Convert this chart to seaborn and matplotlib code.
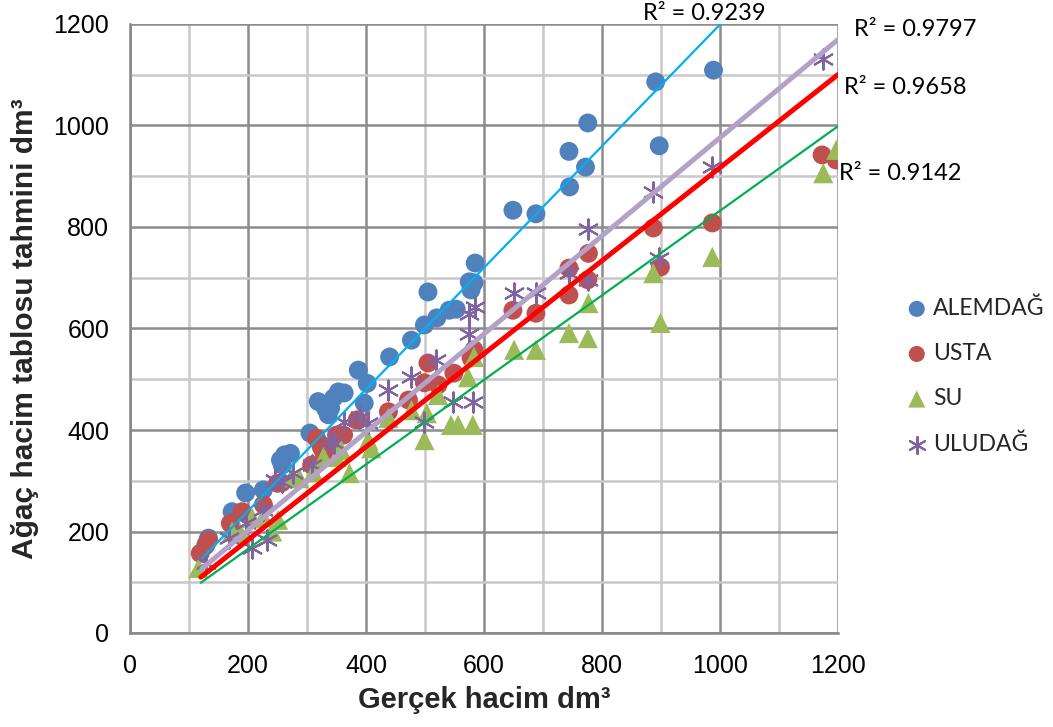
import matplotlib
matplotlib.use("Agg")
import matplotlib.pyplot as plt
import seaborn as sns
import numpy as np
import pandas as pd

# ---------------- data ----------------
alemdag_x = [128, 133, 173, 196, 226, 255, 258, 262, 272, 305, 319, 331, 336, 340, 345, 353, 363,
             387, 397, 402, 440, 477, 499, 505, 520, 541, 553, 575, 578, 583, 585, 649, 688,
             744, 745, 772, 776, 891, 897, 989]
alemdag_y = [172, 187, 239, 276, 282, 341, 331, 351, 354, 394, 456, 443, 430, 443, 463, 475, 473,
             518, 453, 492, 544, 577, 607, 672, 621, 636, 638, 692, 676, 690, 729, 833, 826,
             949, 879, 918, 1005, 1086, 960, 1109]

usta_x = [119, 130, 133, 170, 190, 226, 250, 257, 308, 316, 324, 328, 341, 350, 362, 385, 438,
          472, 499, 505, 522, 549, 578, 583, 649, 688, 744, 744, 777, 776, 887, 899, 987, 1173, 1197]
usta_y = [157, 177, 183, 216, 239, 253, 295, 296, 331, 384, 367, 357, 361, 390, 390, 420, 436,
          459, 493, 532, 489, 512, 542, 558, 636, 630, 719, 666, 748, 696, 798, 721, 808, 942, 932]

su_x = [116, 173, 187, 207, 226, 241, 251, 274, 287, 311, 328, 350, 358, 372, 404, 409, 438, 477,
        499, 503, 522, 544, 556, 573, 581, 583, 651, 688, 744, 776, 777, 887, 899, 987, 1175, 1197]
su_y = [128, 200, 197, 227, 229, 200, 223, 307, 305, 317, 347, 347, 361, 315, 380, 364, 424, 439,
        380, 433, 469, 410, 410, 504, 410, 544, 558, 558, 591, 581, 650, 709, 611, 741, 906, 952]

uludag_x = [128, 167, 196, 207, 226, 232, 246, 257, 277, 308, 338, 346, 363, 389, 404, 438, 477,
            499, 519, 548, 581, 575, 575, 585, 651, 688, 744, 776, 776, 887, 897, 987, 1175]
uludag_y = [138, 187, 216, 167, 242, 183, 301, 298, 315, 331, 380, 374, 416, 426, 414, 479, 504,
            416, 538, 455, 455, 589, 628, 642, 670, 670, 709, 696, 797, 869, 739, 918, 1131]

series_names = ["ALEMDAĞ", "USTA", "SU", "ULUDAĞ"]
# linear trendline coefficients
trend_slope = [1.198, 0.917, 0.833, 0.967]
trend_intercept = [1.0, 0.0, -1.0, 9.0]
trend_start = [122, 120, 120, 122]
r2_labels = ["R² = 0.9239", "R² = 0.9658", "R² = 0.9142", "R² = 0.9797"]

x_ticks = [0, 200, 400, 600, 800, 1000, 1200]
y_ticks = [0, 200, 400, 600, 800, 1000, 1200]
x_label = "Gerçek hacim dm³"
y_label = "Ağaç hacim tablosu tahmini dm³"

# ---------------- style ----------------
sns.set_style("white")
plt.rcParams["font.family"] = ["Liberation Sans", "DejaVu Sans"]

W, H = 1053, 727
fig = plt.figure(figsize=(W / 100, H / 100), dpi=100)
ax = fig.add_axes([130 / W, 1 - 633 / H, 708 / W, 609 / H])

marker_colors = ["#4F81BD", "#C0504D", "#9BBB59", "#8064A2"]
line_colors = ["#00B0F0", "#FF0000", "#00B050", "#B3A2C7"]
line_widths = [1.6, 3.6, 1.6, 3.6]

sns.scatterplot(x=alemdag_x, y=alemdag_y, ax=ax, marker="o", s=185, color=marker_colors[0],
                edgecolor="none", label=series_names[0], zorder=3)
sns.scatterplot(x=usta_x, y=usta_y, ax=ax, marker="o", s=185, color=marker_colors[1],
                edgecolor="none", label=series_names[1], zorder=3)
sns.scatterplot(x=su_x, y=su_y, ax=ax, marker="^", s=210, color=marker_colors[2],
                edgecolor="none", label=series_names[2], zorder=3)
sns.scatterplot(x=uludag_x, y=uludag_y, ax=ax, marker=(6, 2, 0), s=210, color=marker_colors[3],
                linewidth=1.5, label=series_names[3], zorder=3)

# trendlines from the series start to the axis end (clipped by the axes)
for i in range(4):
    tx = np.array([trend_start[i], x_ticks[-1]])
    ty = trend_slope[i] * tx + trend_intercept[i]
    sns.lineplot(x=tx, y=ty, ax=ax, color=line_colors[i], linewidth=line_widths[i],
                 legend=False, zorder=4)

ax.set_xlim(x_ticks[0], x_ticks[-1])
ax.set_ylim(y_ticks[0], y_ticks[-1])
ax.set_xticks(x_ticks)
ax.set_yticks(y_ticks)
ax.set_xticks(np.arange(100, 1200, 200), minor=True)
ax.set_yticks(np.arange(100, 1200, 200), minor=True)
ax.grid(which="major", color="#8c8c8c", linewidth=1.8, zorder=0)
ax.grid(which="minor", color="#c8c8c8", linewidth=1.8, zorder=0)
ax.set_axisbelow(True)

ax.tick_params(axis="both", which="major", direction="out", length=6, width=1.5,
               color="#868686", labelsize=18, labelcolor="black", pad=9)
ax.tick_params(axis="both", which="minor", length=0)
for side in ["left", "bottom"]:
    ax.spines[side].set_color("#868686")
    ax.spines[side].set_linewidth(1.8)
for side in ["top", "right"]:
    ax.spines[side].set_visible(False)

ax.set_xlabel(x_label, fontsize=21, fontweight="bold", labelpad=6)
ax.set_ylabel(y_label, fontsize=21.5, fontweight="bold", labelpad=10)

# legend
handles, labels = ax.get_legend_handles_labels()
leg = ax.legend(handles[:4], labels[:4], loc="center left",
                bbox_to_anchor=(903 / W, 1 - 376 / H), bbox_transform=fig.transFigure,
                frameon=False, prop={"family": "Lato", "size": 16.5},
                labelspacing=1.05, handletextpad=0.1, handlelength=1.2,
                borderpad=0, borderaxespad=0, markerscale=0.85)

# R² labels
r2_pos = [(704, 14), (905, 88), (900, 173), (915, 30)]
for lab, (px, py) in zip(r2_labels, r2_pos):
    fig.text(px / W, 1 - py / H, lab, ha="center", va="center",
             fontsize=17, family="Lato", color="black")

fig.savefig("out.png", dpi=100)
